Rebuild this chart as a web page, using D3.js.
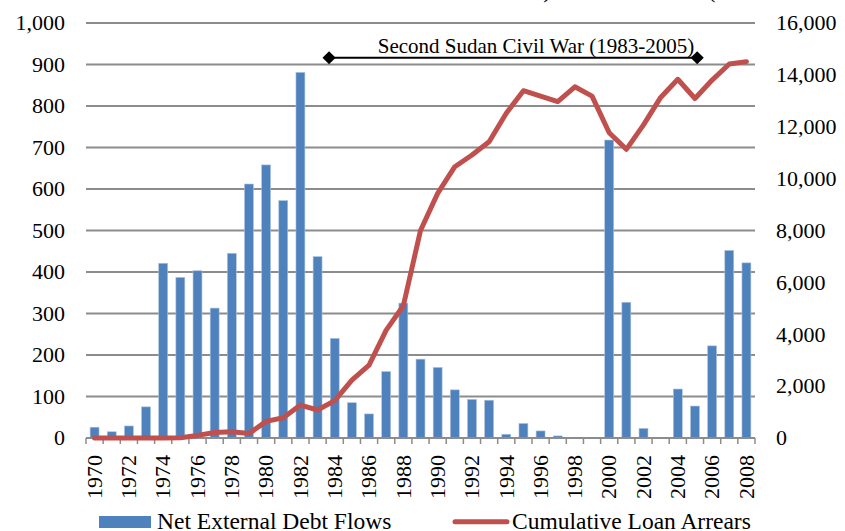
<!DOCTYPE html>
<html>
<head>
<meta charset="utf-8">
<script src="https://cdn.jsdelivr.net/npm/d3@7"></script>
<style>
  body { margin: 0; background: #fff; }
  svg text { font-family: "Liberation Serif", "Times New Roman", serif; fill: #000; }
</style>
</head>
<body>
<svg id="chart" width="845" height="531"></svg>
<script>
// years 1970..2008
const years = d3.range(1970, 2009)
// Net External Debt Flows (left axis)
const debtFlows = [26, 15, 29, 75, 421, 387, 403, 313, 445, 612,
                   658, 572, 881, 437, 240, 85, 58, 160, 325, 190,
                   170, 116, 93, 91, 9, 35, 17, 5, 0, 0,
                   718, 327, 23, 0, 118, 77, 222, 452, 422]
// Cumulative Loan Arrears (right axis)
const arrears = [0, 0, 0, 0, 0, 10, 100, 210, 240, 170,
                 640, 780, 1270, 1080, 1440, 2230, 2810, 4160, 5100, 8000,
                 9430, 10460, 10910, 11420, 12520, 13390, 13180, 12970, 13540, 13180,
                 11770, 11130, 12070, 13130, 13830, 13090, 13800, 14420, 14510]
const leftTicks = [0, 100, 200, 300, 400, 500, 600, 700, 800, 900, 1000]
const rightTicks = [0, 2000, 4000, 6000, 8000, 10000, 12000, 14000, 16000]
const warLabel = 'Second Sudan Civil War (1983-2005)'
const warSpan = [1983.67, 2005.13]

const plotLeft = 86, plotRight = 755, plotTop = 23, plotBottom = 438

const svg = d3.select('#chart')

const x = d3.scaleBand().domain(years).range([plotLeft, plotRight]).padding(0)
const bw = x.bandwidth()
const cx = (yr) => x(yr) + bw / 2
// fractional year -> x (for the annotation)
const xYear = d3.scaleLinear().domain([1970, 2008]).range([cx(1970), cx(2008)])

const yL = d3.scaleLinear().domain([0, 1000]).range([plotBottom, plotTop])
const yR = d3.scaleLinear().domain([0, 16000]).range([plotBottom, plotTop])

// gridlines
svg.append('g').selectAll('line').data(leftTicks).enter().append('line')
    .attr('x1', plotLeft).attr('x2', plotRight)
    .attr('y1', d => yL(d)).attr('y2', d => yL(d))
    .attr('stroke', '#8c8c8c').attr('stroke-width', 1.8)

// left tick labels
svg.append('g').selectAll('text').data(leftTicks).enter().append('text')
    .attr('x', 65).attr('y', d => yL(d)).attr('dy', '0.33em')
    .attr('text-anchor', 'end').style('font-size', '22px')
    .text(d => d3.format(',')(d))

// right tick labels
svg.append('g').selectAll('text').data(rightTicks).enter().append('text')
    .attr('x', 776).attr('y', d => yR(d)).attr('dy', '0.33em')
    .attr('text-anchor', 'start').style('font-size', '22px')
    .text(d => d3.format(',')(d))

// bars
const barW = bw * 0.52
svg.append('g').selectAll('rect').data(years).enter().append('rect')
    .attr('x', (d) => cx(d) - barW / 2)
    .attr('y', (d, i) => yL(debtFlows[i]))
    .attr('width', barW)
    .attr('height', (d, i) => plotBottom - yL(debtFlows[i]))
    .attr('fill', '#4f81bd')
    .attr('stroke', '#a9c2e0').attr('stroke-width', 0.6)

// x axis line + ticks
svg.append('line').attr('x1', plotLeft).attr('x2', plotRight).attr('y1', plotBottom).attr('y2', plotBottom)
    .attr('stroke', '#8c8c8c').attr('stroke-width', 1.8)
svg.append('g').selectAll('line').data(d3.range(years.length + 1)).enter().append('line')
    .attr('x1', i => plotLeft + i * bw).attr('x2', i => plotLeft + i * bw)
    .attr('y1', plotBottom).attr('y2', plotBottom + 6)
    .attr('stroke', '#8c8c8c').attr('stroke-width', 1.5)

// year labels (every other year)
svg.append('g').selectAll('text').data(years.filter(d => d % 2 === 0)).enter().append('text')
    .attr('transform', d => `translate(${cx(d)},455) rotate(-90)`)
    .attr('dy', '0.33em').attr('text-anchor', 'end').style('font-size', '22px')
    .text(d => d)

// arrears line
const line = d3.line().x((d, i) => cx(years[i])).y(d => yR(d))
svg.append('path').datum(arrears)
    .attr('d', line).attr('fill', 'none')
    .attr('stroke', '#c0504d').attr('stroke-width', 5)
    .attr('stroke-linejoin', 'round').attr('stroke-linecap', 'round')

// war annotation
const ay = 57.7
svg.append('line').attr('x1', xYear(warSpan[0])).attr('x2', xYear(warSpan[1]))
    .attr('y1', ay).attr('y2', ay).attr('stroke', '#000').attr('stroke-width', 2)
svg.append('g').selectAll('path').data(warSpan).enter().append('path')
    .attr('d', d3.symbol(d3.symbolDiamond2, 110))
    .attr('transform', d => `translate(${xYear(d)},${ay})`)
    .attr('fill', '#000')
svg.append('text').attr('x', 536).attr('y', 53).attr('text-anchor', 'middle')
    .style('font-size', '21px').text(warLabel)

// clipped title remnants at the very top
svg.append('text').attr('x', 547).attr('y', -2).attr('text-anchor', 'middle').style('font-size', '22px').text(')')
svg.append('text').attr('x', 712).attr('y', -2).attr('text-anchor', 'middle').style('font-size', '22px').text('(')

// legend
svg.append('rect').attr('x', 99).attr('y', 516).attr('width', 52).attr('height', 12).attr('fill', '#4f81bd')
svg.append('text').attr('x', 157).attr('y', 529).style('font-size', '23.5px').text('Net External Debt Flows')
svg.append('line').attr('x1', 455).attr('x2', 507).attr('y1', 521.7).attr('y2', 521.7)
    .attr('stroke', '#c0504d').attr('stroke-width', 5).attr('stroke-linecap', 'round')
svg.append('text').attr('x', 512).attr('y', 529).style('font-size', '23.5px').text('Cumulative Loan Arrears')
</script>
</body>
</html>
